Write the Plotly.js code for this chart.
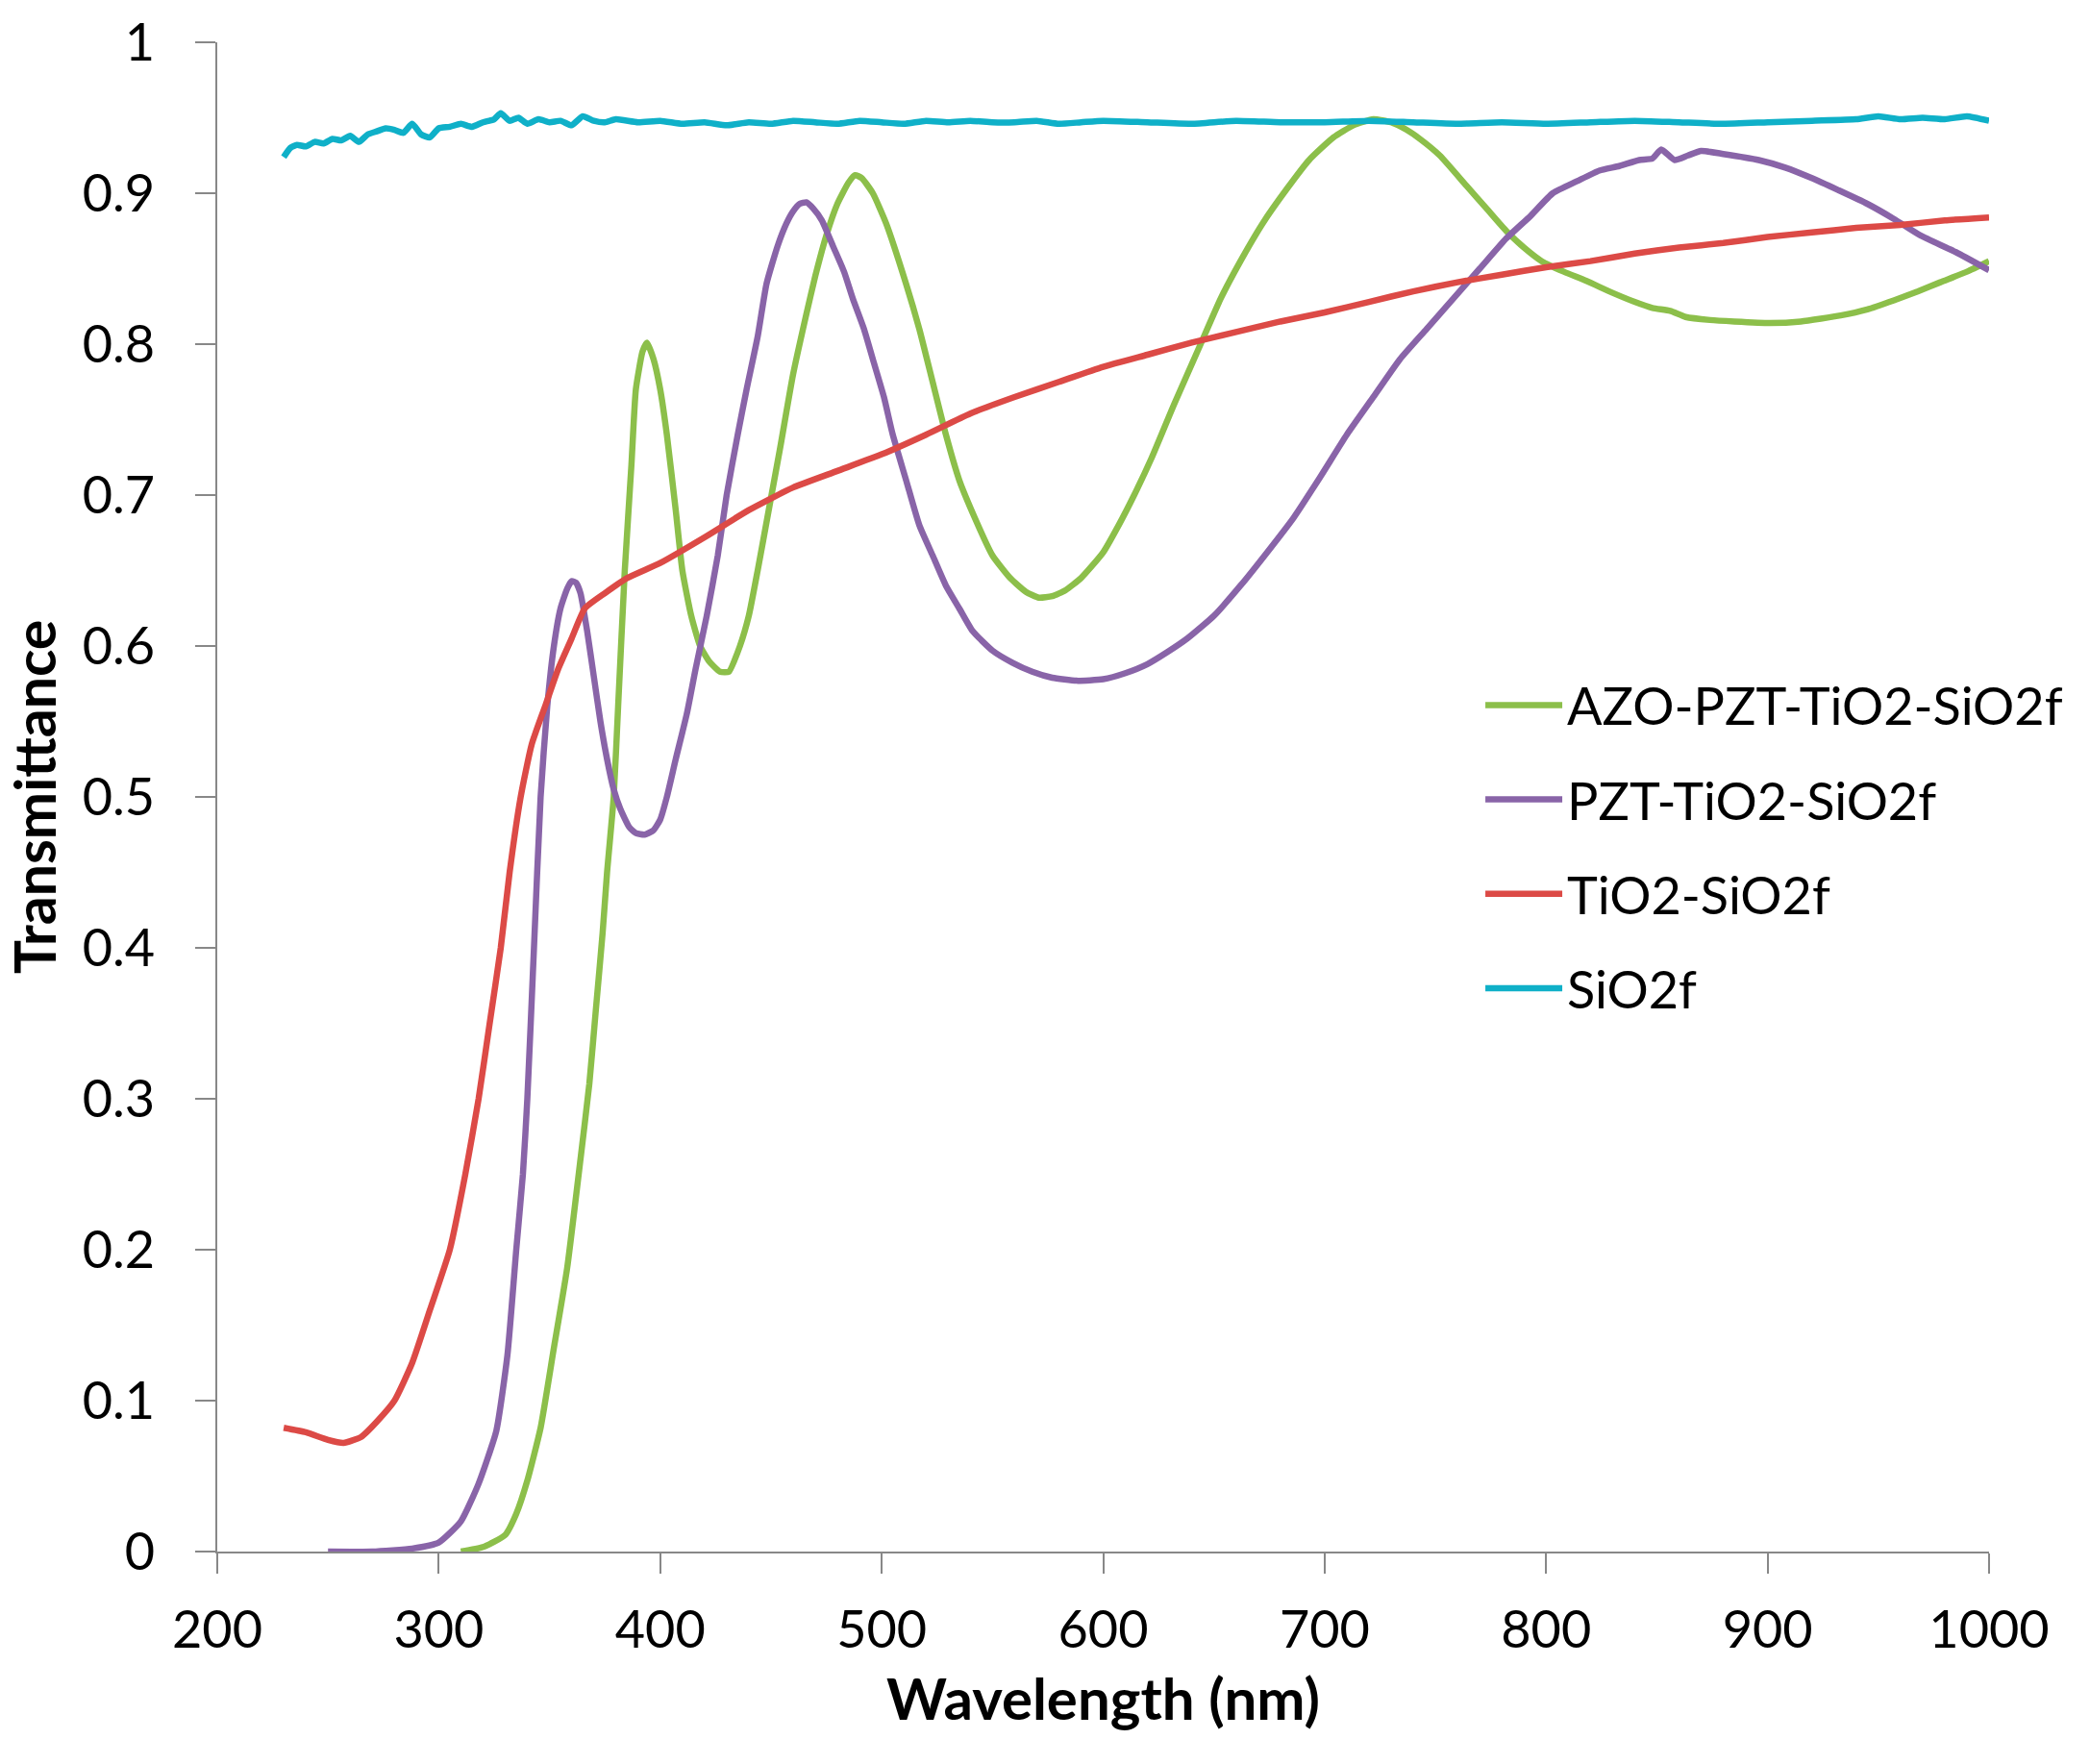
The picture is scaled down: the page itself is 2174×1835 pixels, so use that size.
<!DOCTYPE html>
<html>
<head>
<meta charset="utf-8">
<script src="https://cdn.plot.ly/plotly-3.0.1.min.js"></script>
<style>
  html, body { margin: 0; padding: 0; background: #fff; }
  #chart { width: 2174px; height: 1835px; }
</style>
</head>
<body>
<div id="chart"></div>
<script>
/* ── Transmittance spectra ────────────────────────────────── */
const wlAzo = [310, 320, 330, 335, 340, 346, 352, 358, 364, 368, 371, 374, 376, 379, 381, 384, 387, 389, 392, 394,
  397, 400, 403, 407, 410, 414, 418, 422, 427, 431, 436, 440, 444, 449, 454, 460, 466, 470, 475, 480, 485, 488, 491,
  496, 502, 511, 517, 523, 529, 535, 542, 550, 558, 565, 571, 577, 583, 590, 600, 607, 614, 622, 632, 644, 653, 662,
  672, 683, 693, 704, 713, 722, 730, 737, 743, 752, 764, 773, 782, 790, 798, 808, 818, 830, 840, 848, 856, 863, 874,
  885, 901, 915, 933, 945, 957, 968, 978, 990, 1000];
const tAzo = [0.0, 0.003, 0.011, 0.025, 0.047, 0.082, 0.135, 0.188, 0.26, 0.31, 0.36, 0.41, 0.45, 0.5, 0.56, 0.65,
  0.72, 0.77, 0.795, 0.801, 0.79, 0.77, 0.74, 0.69, 0.65, 0.62, 0.6, 0.59, 0.583, 0.583, 0.6, 0.62, 0.65, 0.69, 0.73,
  0.78, 0.82, 0.845, 0.872, 0.893, 0.907, 0.912, 0.91, 0.9, 0.88, 0.84, 0.81, 0.775, 0.74, 0.71, 0.685, 0.66, 0.645,
  0.636, 0.632, 0.633, 0.637, 0.645, 0.662, 0.68, 0.7, 0.725, 0.76, 0.8, 0.83, 0.855, 0.88, 0.903, 0.922, 0.937,
  0.945, 0.949, 0.947, 0.942, 0.936, 0.925, 0.905, 0.89, 0.875, 0.864, 0.855, 0.848, 0.842, 0.834, 0.828, 0.824,
  0.822, 0.818, 0.816, 0.815, 0.814, 0.815, 0.819, 0.823, 0.829, 0.835, 0.841, 0.848, 0.855];

const wlPzt = [250, 270, 288, 300, 310, 318, 326, 331, 335, 338, 340, 343, 346, 349, 352, 355, 358, 360, 362, 364,
  367, 370, 373, 376, 379, 382, 386, 389, 393, 397, 400, 403, 407, 412, 416, 421, 426, 430, 435, 439, 444, 448, 453,
  457, 460, 463, 466, 469, 473, 478, 483, 487, 492, 496, 501, 505, 511, 517, 523, 529, 535, 541, 550, 559, 568, 577,
  588, 600, 610, 620, 629, 638, 650, 662, 674, 686, 698, 710, 722, 734, 746, 758, 770, 782, 793, 803, 814, 824, 833,
  842, 848, 852, 858, 864, 870, 880, 896, 908, 920, 932, 945, 957, 969, 985, 1000];
const tPzt = [0.0, 0.0, 0.002, 0.006, 0.02, 0.045, 0.08, 0.13, 0.2, 0.25, 0.3, 0.4, 0.5, 0.56, 0.6, 0.625, 0.638,
  0.643, 0.642, 0.635, 0.61, 0.58, 0.55, 0.525, 0.505, 0.492, 0.48, 0.476, 0.475, 0.478, 0.485, 0.5, 0.525, 0.555,
  0.585, 0.62, 0.66, 0.7, 0.74, 0.77, 0.805, 0.84, 0.865, 0.88, 0.888, 0.893, 0.894, 0.89, 0.882, 0.865, 0.848, 0.83,
  0.81, 0.79, 0.765, 0.74, 0.71, 0.68, 0.66, 0.64, 0.625, 0.61, 0.597, 0.589, 0.583, 0.579, 0.577, 0.578, 0.582,
  0.588, 0.596, 0.605, 0.62, 0.64, 0.662, 0.685, 0.712, 0.74, 0.765, 0.79, 0.81, 0.83, 0.85, 0.87, 0.885, 0.9,
  0.908, 0.915, 0.918, 0.922, 0.923, 0.929, 0.922, 0.925, 0.928, 0.926, 0.922, 0.917, 0.91, 0.902, 0.893, 0.883,
  0.872, 0.861, 0.849];

const wlTio2 = [230, 240, 250, 257, 265, 272, 280, 288, 296, 305, 312, 318, 323, 328, 332, 337, 342, 348, 354, 360,
  366, 375, 385, 400, 420, 440, 460, 480, 500, 520, 540, 560, 580, 600, 620, 640, 660, 680, 700, 720, 740, 760, 780,
  800, 820, 840, 860, 880, 900, 920, 940, 960, 980, 1000];
const tTio2 = [0.082, 0.079, 0.074, 0.072, 0.076, 0.086, 0.1, 0.125, 0.16, 0.2, 0.25, 0.3, 0.35, 0.4, 0.45, 0.5,
  0.535, 0.56, 0.585, 0.605, 0.625, 0.635, 0.645, 0.655, 0.672, 0.69, 0.705, 0.716, 0.727, 0.74, 0.754, 0.765,
  0.775, 0.785, 0.793, 0.801, 0.808, 0.815, 0.821, 0.828, 0.835, 0.841, 0.846, 0.851, 0.855, 0.86, 0.864, 0.867,
  0.871, 0.874, 0.877, 0.879, 0.882, 0.884];

const wlSio2 = [230, 233, 236, 240, 244, 248, 252, 256, 260, 264, 268, 272, 276, 280, 284, 288, 292, 296, 300, 305,
  310, 315, 320, 325, 328, 332, 336, 340, 345, 350, 355, 360, 365, 370, 375, 380, 390, 400, 410, 420, 430, 440, 450,
  460, 470, 480, 490, 500, 510, 520, 530, 540, 550, 560, 570, 580, 590, 600, 620, 640, 660, 680, 700, 720, 740, 760,
  780, 800, 820, 840, 860, 880, 900, 920, 940, 950, 960, 970, 980, 990, 1000];
const tSio2 = [0.924, 0.93, 0.932, 0.931, 0.934, 0.933, 0.936, 0.935, 0.938, 0.934, 0.939, 0.941, 0.943, 0.942,
  0.94, 0.946, 0.939, 0.937, 0.943, 0.944, 0.946, 0.944, 0.947, 0.949, 0.953, 0.948, 0.95, 0.946, 0.949, 0.947,
  0.948, 0.945, 0.951, 0.948, 0.947, 0.949, 0.947, 0.948, 0.946, 0.947, 0.945, 0.947, 0.946, 0.948, 0.947, 0.946,
  0.948, 0.947, 0.946, 0.948, 0.947, 0.948, 0.947, 0.947, 0.948, 0.946, 0.947, 0.948, 0.947, 0.946, 0.948, 0.947,
  0.947, 0.948, 0.947, 0.946, 0.947, 0.946, 0.947, 0.948, 0.947, 0.946, 0.947, 0.948, 0.949, 0.951, 0.949, 0.95,
  0.949, 0.951, 0.948];

/* ── Series definitions ───────────────────────────────────── */
const series = [
  { name: 'AZO-PZT-TiO2-SiO2f', x: wlAzo,  y: tAzo,  color: '#8cbf4a' },
  { name: 'PZT-TiO2-SiO2f',     x: wlPzt,  y: tPzt,  color: '#8964a8' },
  { name: 'TiO2-SiO2f',         x: wlTio2, y: tTio2, color: '#dc4a46' },
  { name: 'SiO2f',              x: wlSio2, y: tSio2, color: '#0fb0c8' }
];

const FONT = 'Lato, "Open Sans", sans-serif';
const AXIS_GREY = '#888888';

const traces = series.map((s, i) => ({
  x: s.x, y: s.y,
  name: s.name,
  type: 'scatter',
  mode: 'lines',
  legendgroup: 'g' + i,
  line: { color: s.color, width: 6.5, shape: 'spline', smoothing: 0.5 }
}));

const layout = {
  width: 2174,
  height: 1835,
  paper_bgcolor: '#ffffff',
  plot_bgcolor: '#ffffff',
  font: { family: FONT, size: 54, color: '#000000' },
  margin: { l: 226, r: 105, t: 44, b: 221, pad: 0 },
  showlegend: true,
  legend: {
    x: 0.713, y: 0.467,
    xanchor: 'left', yanchor: 'middle',
    font: { family: FONT, size: 54, color: '#000000' },
    itemwidth: 80,
    tracegroupgap: 25,
    bgcolor: 'rgba(0,0,0,0)'
  },
  xaxis: {
    range: [200, 1000],
    tickvals: [200, 300, 400, 500, 600, 700, 800, 900, 1000],
    ticks: 'outside', ticklen: 21, tickwidth: 2, tickcolor: AXIS_GREY,
    showline: true, linecolor: AXIS_GREY, linewidth: 2,
    showgrid: false, zeroline: false,
    ticklabelstandoff: 12,
    tickfont: { family: FONT, size: 54 },
    title: { text: '<b>Wavelength (nm)</b>', font: { family: FONT, size: 60 }, standoff: 22 }
  },
  yaxis: {
    range: [0, 1],
    tickvals: [0, 0.1, 0.2, 0.3, 0.4, 0.5, 0.6, 0.7, 0.8, 0.9, 1],
    ticktext: ['0', '0.1', '0.2', '0.3', '0.4', '0.5', '0.6', '0.7', '0.8', '0.9', '1'],
    ticks: 'outside', ticklen: 21, tickwidth: 2, tickcolor: AXIS_GREY,
    showline: true, linecolor: AXIS_GREY, linewidth: 2,
    showgrid: false, zeroline: false,
    ticklabelstandoff: 31,
    tickfont: { family: FONT, size: 54 },
    title: { text: '<b>Transmittance</b>', font: { family: FONT, size: 59 }, standoff: 14 }
  }
};

Plotly.newPlot('chart', traces, layout, { staticPlot: true, displayModeBar: false });
</script>
</body>
</html>
